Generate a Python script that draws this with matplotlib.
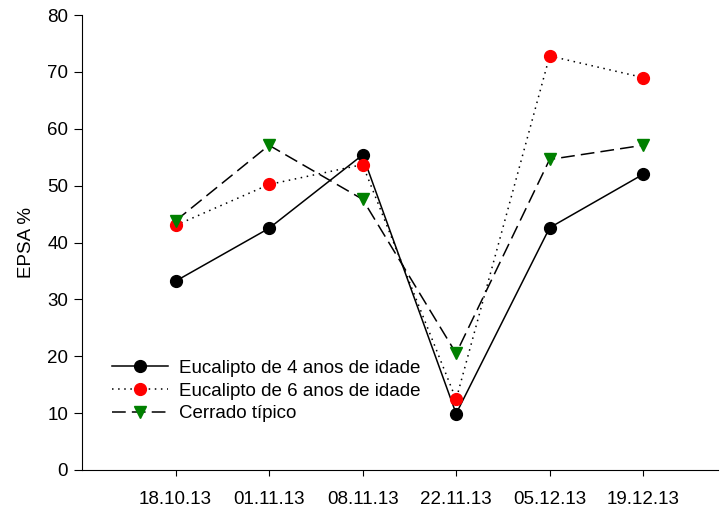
import matplotlib
matplotlib.use('Agg')
import matplotlib.pyplot as plt

plt.rcParams['font.family'] = ['Liberation Sans', 'DejaVu Sans']

# datas de coleta
datas = ['18.10.13', '01.11.13', '08.11.13', '22.11.13', '05.12.13', '19.12.13']
# EPSA % por área
euc4 = [33.2, 42.5, 55.4, 9.9, 42.6, 52.0]
euc6 = [43.0, 50.2, 53.7, 12.4, 72.8, 69.0]
cerrado = [43.8, 57.1, 47.6, 20.5, 54.6, 57.1]

x = list(range(1, len(datas) + 1))

fig = plt.figure(figsize=(7.2, 5.08), dpi=100)
ax = fig.add_axes([82 / 720, 38 / 508, 636 / 720, 455 / 508])

ax.plot(x, euc4, color='black', lw=1.1, marker='o', ms=8.5, mfc='black', mec='black',
        label='Eucalipto de 4 anos de idade')
ax.plot(x, euc6, color='black', lw=1.1, ls=(0, (1, 3)), marker='o', ms=8.5, mfc='red', mec='red',
        label='Eucalipto de 6 anos de idade')
ax.plot(x, cerrado, color='black', lw=1.1, ls=(0, (9, 4)), marker='v', ms=8.5, mfc='green', mec='green',
        label='Cerrado típico')

ax.set_xlim(0, 6.8)
ax.set_ylim(0, 80)
ax.set_xticks(x)
ax.set_xticklabels(datas)
ax.set_yticks(range(0, 81, 10))
ax.tick_params(axis='both', labelsize=13.5, direction='out', color='black')
ax.tick_params(axis='x', length=4, pad=11)
ax.tick_params(axis='y', length=6, pad=4)
ax.set_ylabel('EPSA %', fontsize=13.5, labelpad=9)

for s in ['top', 'right']:
    ax.spines[s].set_visible(False)

ax.legend(loc='lower left', bbox_to_anchor=(0.035, 0.088), frameon=False, fontsize=13.5,
          handlelength=3.0, handletextpad=0.6, labelspacing=0.3, borderaxespad=0)

fig.savefig('out.png', dpi=100)
